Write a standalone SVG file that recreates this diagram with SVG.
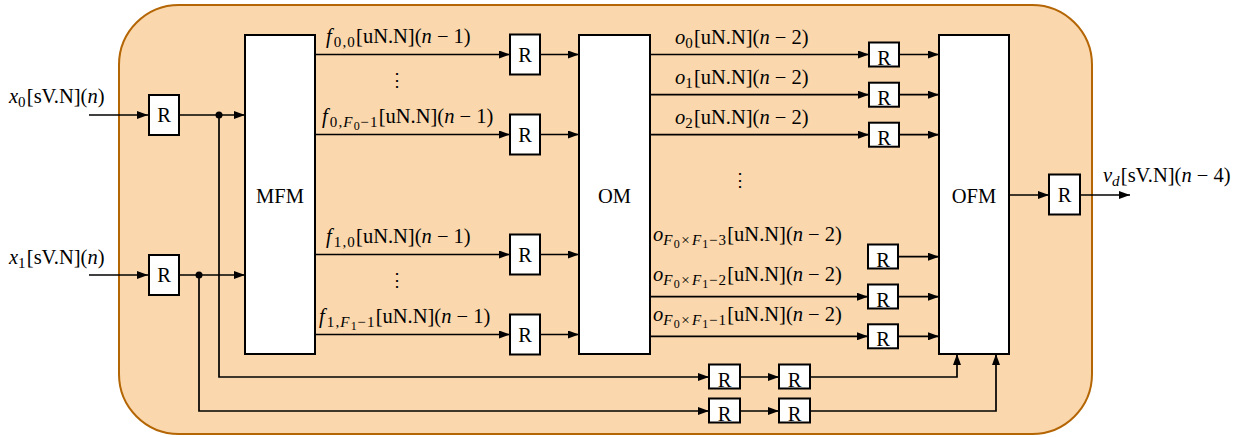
<svg xmlns="http://www.w3.org/2000/svg" width="1242" height="437" viewBox="0 0 1242 437">
<style>
.t{font-family:"Liberation Serif","Times New Roman",serif;font-size:20.5px;fill:#000}
.i{font-style:italic}
.s{font-size:15px;letter-spacing:1.2px}
.ss{font-size:12px;letter-spacing:0.6px}
.box{fill:#fff;stroke:#000;stroke-width:2}
.ln{fill:none;stroke:#000;stroke-width:1.7}
.dots{font-family:"DejaVu Serif",serif;font-size:18px;fill:#000}
</style>
<defs>
<marker id="ah" viewBox="0 0 11 8" refX="11" refY="4" markerWidth="11" markerHeight="8" markerUnits="userSpaceOnUse" orient="auto">
<path d="M0,0 L11,4 L0,8 z" fill="#000"/>
</marker>
</defs>
<rect id="container" x="119" y="5" width="973" height="429" rx="60" ry="60" fill="#fad7ac" stroke="#b46504" stroke-width="2"/>

<g id="connectors" class="ln" marker-end="url(#ah)">
<path d="M89,115 H148"/>
<path d="M89,275 H148"/>
<path d="M179,115 H245"/>
<path d="M179,275 H245"/>
<path d="M219,115 V377 H709"/>
<path d="M199,275 V411 H709"/>
<path d="M740,377 H779"/>
<path d="M740,411 H779"/>
<path d="M810,377 H957 V354"/>
<path d="M810,411 H996 V354"/>
<path d="M315,54.5 H510"/>
<path d="M315,134.5 H510"/>
<path d="M315,254.5 H510"/>
<path d="M315,334.5 H510"/>
<path d="M540,54.5 H579"/>
<path d="M540,134.5 H579"/>
<path d="M540,254.5 H579"/>
<path d="M540,334.5 H579"/>
<path d="M650,54.5 H869"/>
<path d="M650,94.7 H869"/>
<path d="M650,134.7 H869"/>
<path d="M650,296.7 H868"/>
<path d="M650,336.3 H868"/>
<path d="M899,54.5 H939"/>
<path d="M899,94.7 H939"/>
<path d="M899,134.7 H939"/>
<path d="M898,256.7 H939"/>
<path d="M898,296.7 H939"/>
<path d="M898,336.3 H939"/>
<path d="M1009,195 H1049"/>
<path d="M1080,195 H1130"/>
</g>
<g id="junctions" fill="#000">
<circle cx="219" cy="115" r="3.5"/>
<circle cx="199" cy="275" r="3.5"/>
</g>

<g id="MFM"><rect class="box" x="245" y="35" width="70" height="319"/><text class="t" x="280" y="203" text-anchor="middle">MFM</text></g>
<g id="OM"><rect class="box" x="579" y="35" width="71" height="319"/><text class="t" x="614.5" y="203" text-anchor="middle">OM</text></g>
<g id="OFM"><rect class="box" x="939" y="35" width="70" height="319"/><text class="t" x="974" y="203" text-anchor="middle">OFM</text></g>

<g id="R_in0"><rect class="box" x="149" y="95" width="30" height="40"/><text class="t" x="164" y="122" text-anchor="middle">R</text></g>
<g id="R_in1"><rect class="box" x="149" y="255" width="30" height="40"/><text class="t" x="164" y="282" text-anchor="middle">R</text></g>
<g id="R_f00"><rect class="box" x="510" y="34.5" width="30" height="40"/><text class="t" x="525" y="61.5" text-anchor="middle">R</text></g>
<g id="R_f0F"><rect class="box" x="510" y="114.5" width="30" height="40"/><text class="t" x="525" y="141.5" text-anchor="middle">R</text></g>
<g id="R_f10"><rect class="box" x="510" y="234.5" width="30" height="40"/><text class="t" x="525" y="261.5" text-anchor="middle">R</text></g>
<g id="R_f1F"><rect class="box" x="510" y="314.5" width="30" height="40"/><text class="t" x="525" y="341.5" text-anchor="middle">R</text></g>
<g id="R_o0"><rect class="box" x="869" y="42.5" width="30" height="24"/><text class="t" x="884" y="64.5" text-anchor="middle">R</text></g>
<g id="R_o1"><rect class="box" x="869" y="82.7" width="30" height="24"/><text class="t" x="884" y="104.7" text-anchor="middle">R</text></g>
<g id="R_o2"><rect class="box" x="869" y="122.7" width="30" height="24"/><text class="t" x="884" y="144.7" text-anchor="middle">R</text></g>
<g id="R_oF3"><rect class="box" x="868" y="244.5" width="30" height="24"/><text class="t" x="883" y="266.5" text-anchor="middle">R</text></g>
<g id="R_oF2"><rect class="box" x="868" y="284.5" width="30" height="24"/><text class="t" x="883" y="306.5" text-anchor="middle">R</text></g>
<g id="R_oF1"><rect class="box" x="868" y="324.3" width="30" height="24"/><text class="t" x="883" y="346.3" text-anchor="middle">R</text></g>
<g id="R_b0a"><rect class="box" x="709" y="364.5" width="31" height="24"/><text class="t" x="724.5" y="386.5" text-anchor="middle">R</text></g>
<g id="R_b0b"><rect class="box" x="779" y="364.5" width="31" height="24"/><text class="t" x="794.5" y="386.5" text-anchor="middle">R</text></g>
<g id="R_b1a"><rect class="box" x="709" y="398.5" width="31" height="24"/><text class="t" x="724.5" y="420.5" text-anchor="middle">R</text></g>
<g id="R_b1b"><rect class="box" x="779" y="398.5" width="31" height="24"/><text class="t" x="794.5" y="420.5" text-anchor="middle">R</text></g>
<g id="R_out"><rect class="box" x="1049" y="174.5" width="31" height="40"/><text class="t" x="1064.5" y="202" text-anchor="middle">R</text></g>

<g id="labels">
<text class="t" x="9" y="103"><tspan class="i">x</tspan><tspan class="s" dy="4">0</tspan><tspan dy="-4">[sV.N](</tspan><tspan class="i">n</tspan>)</text>
<text class="t" x="9" y="264"><tspan class="i">x</tspan><tspan class="s" dy="4">1</tspan><tspan dy="-4">[sV.N](</tspan><tspan class="i">n</tspan>)</text>

<text class="t" x="326" y="43"><tspan class="i">f</tspan><tspan class="s" dy="4" dx="2">0,0</tspan><tspan dy="-4">[uN.N](</tspan><tspan class="i">n</tspan> − 1)</text>
<text class="t" x="322" y="123"><tspan class="i">f</tspan><tspan class="s" dy="4" dx="2">0,</tspan><tspan class="s i">F</tspan><tspan class="ss" dy="3">0</tspan><tspan class="s" dy="-3">−1</tspan><tspan dy="-4">[uN.N](</tspan><tspan class="i">n</tspan> − 1)</text>
<text class="t" x="326" y="243"><tspan class="i">f</tspan><tspan class="s" dy="4" dx="2">1,0</tspan><tspan dy="-4">[uN.N](</tspan><tspan class="i">n</tspan> − 1)</text>
<text class="t" x="319" y="323"><tspan class="i">f</tspan><tspan class="s" dy="4" dx="2">1,</tspan><tspan class="s i">F</tspan><tspan class="ss" dy="3">1</tspan><tspan class="s" dy="-3">−1</tspan><tspan dy="-4">[uN.N](</tspan><tspan class="i">n</tspan> − 1)</text>
<text class="dots" x="397" y="86" text-anchor="middle">⋮</text>
<text class="dots" x="397" y="286" text-anchor="middle">⋮</text>

<text class="t" x="675" y="44"><tspan class="i">o</tspan><tspan class="s" dy="4">0</tspan><tspan dy="-4">[uN.N](</tspan><tspan class="i">n</tspan> − 2)</text>
<text class="t" x="675" y="84"><tspan class="i">o</tspan><tspan class="s" dy="4">1</tspan><tspan dy="-4">[uN.N](</tspan><tspan class="i">n</tspan> − 2)</text>
<text class="t" x="675" y="124"><tspan class="i">o</tspan><tspan class="s" dy="4">2</tspan><tspan dy="-4">[uN.N](</tspan><tspan class="i">n</tspan> − 2)</text>
<text class="dots" x="740" y="186" text-anchor="middle">⋮</text>
<text class="t" x="653" y="241"><tspan class="i">o</tspan><tspan class="s i" dy="4">F</tspan><tspan class="ss" dy="3">0</tspan><tspan class="s" dy="-3" dx="1">×</tspan><tspan class="s i" dx="1">F</tspan><tspan class="ss" dy="3">1</tspan><tspan class="s" dy="-3">−3</tspan><tspan dy="-4">[uN.N](</tspan><tspan class="i">n</tspan> − 2)</text>
<text class="t" x="653" y="281"><tspan class="i">o</tspan><tspan class="s i" dy="4">F</tspan><tspan class="ss" dy="3">0</tspan><tspan class="s" dy="-3" dx="1">×</tspan><tspan class="s i" dx="1">F</tspan><tspan class="ss" dy="3">1</tspan><tspan class="s" dy="-3">−2</tspan><tspan dy="-4">[uN.N](</tspan><tspan class="i">n</tspan> − 2)</text>
<text class="t" x="653" y="321"><tspan class="i">o</tspan><tspan class="s i" dy="4">F</tspan><tspan class="ss" dy="3">0</tspan><tspan class="s" dy="-3" dx="1">×</tspan><tspan class="s i" dx="1">F</tspan><tspan class="ss" dy="3">1</tspan><tspan class="s" dy="-3">−1</tspan><tspan dy="-4">[uN.N](</tspan><tspan class="i">n</tspan> − 2)</text>

<text class="t" x="1103" y="182"><tspan class="i">v</tspan><tspan class="s i" dy="4">d</tspan><tspan dy="-4">[sV.N](</tspan><tspan class="i">n</tspan> − 4)</text>
</g>
</svg>
